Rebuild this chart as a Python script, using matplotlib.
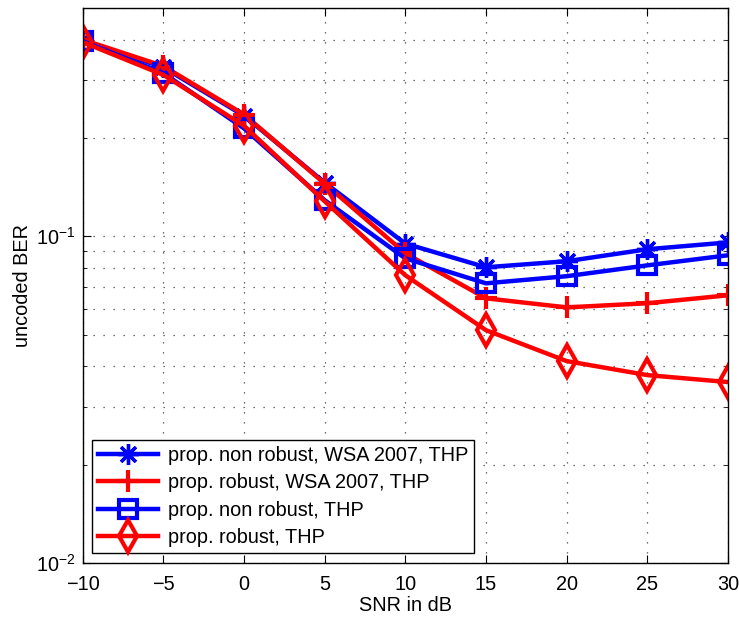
import matplotlib
matplotlib.use('Agg')
import matplotlib.pyplot as plt
import numpy as np
from matplotlib.ticker import LogLocator, NullFormatter

plt.rcParams['font.family'] = ['Liberation Sans', 'DejaVu Sans']
plt.rcParams['mathtext.fontset'] = 'custom'
plt.rcParams['mathtext.rm'] = 'Liberation Sans'

# data
snr = [-10, -5, 0, 5, 10, 15, 20, 25, 30]
nonrob_wsa = [0.398, 0.329, 0.234, 0.146, 0.095, 0.0804, 0.0839, 0.0913, 0.0958]
rob_wsa = [0.400, 0.332, 0.236, 0.145, 0.0887, 0.0646, 0.0606, 0.0624, 0.066]
nonrob_thp = [0.396, 0.316, 0.214, 0.129, 0.0856, 0.0718, 0.0755, 0.0815, 0.0875]
rob_thp = [0.393, 0.312, 0.218, 0.128, 0.076, 0.0516, 0.0415, 0.0376, 0.0358]

labels = ['prop. non robust, WSA 2007, THP', 'prop. robust, WSA 2007, THP',
          'prop. non robust, THP', 'prop. robust, THP']

fs = 14.3

fig = plt.figure(figsize=(7.39, 6.17), dpi=100)
ax = fig.add_axes([82.7 / 739, 1 - 563 / 617, (728 - 82.7) / 739, (563 - 8) / 617])

lw = 3.2
ax.plot(snr, nonrob_wsa, color='#0000ff', lw=lw, marker=(8, 2, 0), ms=15, mew=2.4, label=labels[0])
ax.plot(snr, rob_wsa, color='#ff0000', lw=lw, marker='+', ms=16, mew=3, label=labels[1])
ax.plot(snr, nonrob_thp, color='#0000ff', lw=lw, marker='s', ms=13, mew=3, mfc='none', label=labels[2])
ax.plot(snr, rob_thp, color='#ff0000', lw=lw, marker='d', ms=16, mew=3, mfc='none', label=labels[3])

ax.set_yscale('log')
ax.set_xlim(-10, 30)
ax.set_ylim(0.01, 0.5)
ax.set_xticks(snr)
ax.set_xticklabels(['\u221210', '\u22125', '0', '5', '10', '15', '20', '25', '30'])
ax.yaxis.set_major_locator(LogLocator(base=10, numticks=5))
ax.yaxis.set_minor_locator(LogLocator(base=10, subs=np.arange(2, 10), numticks=20))
ax.yaxis.set_minor_formatter(NullFormatter())

ax.grid(True, which='major', ls=(0, (1, 7)), color='#444444', lw=0.9)
ax.grid(True, which='minor', axis='y', ls=(0, (1, 7)), color='#444444', lw=0.9)
ax.tick_params(which='both', direction='in', top=True, right=True, labelsize=fs)
ax.tick_params(which='major', length=6)
ax.tick_params(which='minor', length=3)
ax.tick_params(axis='x', pad=9)
ax.tick_params(axis='y', pad=5)
for s in ax.spines.values():
    s.set_linewidth(1.0)

ax.set_xlabel('SNR in dB', fontsize=fs, labelpad=1)
ax.set_ylabel('uncoded BER', fontsize=fs, labelpad=3)

leg = ax.legend(loc='lower left', bbox_to_anchor=(0.015, 0.018), fontsize=fs,
                frameon=True, fancybox=False, edgecolor='black', framealpha=1,
                handlelength=3.0, borderpad=0.3, labelspacing=0.42, handletextpad=0.5,
                borderaxespad=0)
leg.get_frame().set_linewidth(1.0)

fig.savefig('out.png', dpi=100)
